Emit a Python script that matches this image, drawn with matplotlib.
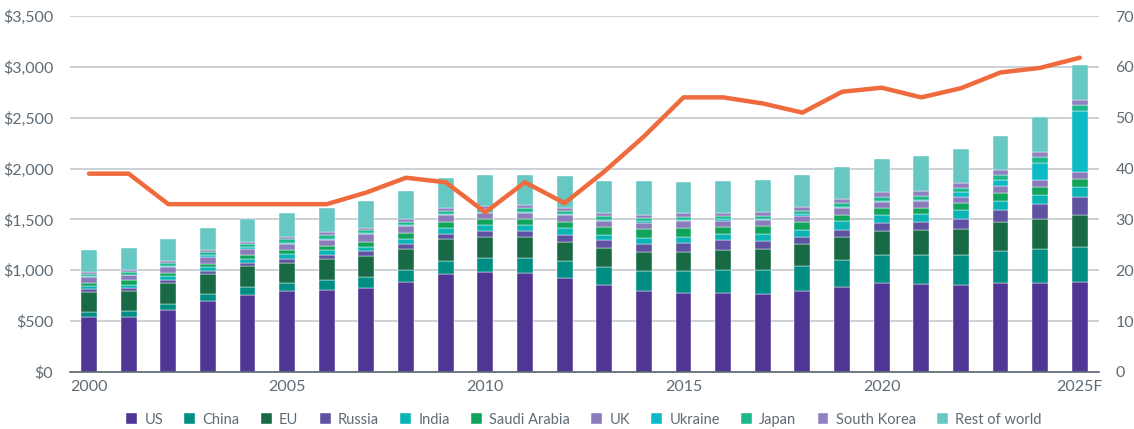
import matplotlib.pyplot as plt
import numpy as np

# Jahre und Tick-Beschriftungen
years = list(range(2000, 2026))
tick_pos = [0, 5, 10, 15, 20, 25]
tick_labels = ["2000", "2005", "2010", "2015", "2020", "2025F"]

# Ausgaben je Land (Mrd. $), von unten nach oben gestapelt
us = [539, 542, 611, 696, 758, 797, 807, 830, 886, 961, 987, 974, 925, 853, 797,
      778, 778, 768, 794, 837, 874, 864, 858, 877, 877, 881]
china = [49, 53, 62, 69, 79, 82, 95, 105, 114, 130, 137, 150, 163, 180, 196,
         212, 225, 239, 252, 261, 275, 285, 291, 311, 328, 344]
eu = [200, 206, 206, 199, 202, 193, 206, 205, 206, 213, 203, 203, 190, 186, 187,
      190, 196, 202, 209, 226, 236, 249, 259, 285, 301, 317]
russia = [26, 26, 29, 33, 33, 42, 42, 46, 55, 55, 59, 59, 72, 75, 78,
          85, 95, 75, 72, 68, 82, 79, 101, 121, 144, 183]
india = [29, 29, 33, 36, 42, 43, 46, 43, 49, 56, 58, 55, 62, 56, 62,
         62, 65, 72, 72, 88, 75, 81, 82, 92, 92, 95]
saudi = [33, 46, 30, 29, 36, 46, 43, 49, 53, 59, 56, 59, 62, 72, 89,
         91, 66, 75, 78, 63, 66, 59, 69, 69, 72, 79]
uk = [59, 50, 62, 69, 59, 58, 62, 75, 68, 68, 65, 62, 65, 65, 58,
      62, 59, 59, 59, 68, 65, 63, 62, 69, 69, 72]
ukraine = [4, 5, 9, 16, 20, 10, 10, 10, 12, 10, 10, 10, 12, 10, 13,
           13, 16, 13, 16, 16, 13, 9, 43, 62, 176, 596]
japan = [25, 30, 27, 33, 26, 36, 35, 29, 31, 30, 30, 39, 34, 32, 33,
         30, 33, 33, 33, 30, 39, 43, 45, 52, 56, 55]
south_korea = [20, 20, 26, 19, 26, 23, 27, 23, 26, 29, 23, 26, 29, 30, 33,
               36, 32, 36, 36, 39, 43, 43, 46, 46, 46, 50]
rest = [218, 215, 215, 213, 222, 235, 238, 265, 281, 294, 310, 301, 308, 323, 330,
        307, 308, 317, 320, 320, 327, 347, 341, 341, 350, 350]

# rechte Achse (Linie)
line_vals = [39, 39, 33, 33, 33, 33, 33, 35.3, 38.2, 37.3, 31.4, 37.3, 33.2, 39.4, 46.3,
             54, 54, 52.8, 51, 55.1, 55.9, 54, 55.8, 58.9, 59.8, 61.8]

series = [
    ("US", us, "#4f3594"),
    ("China", china, "#008d84"),
    ("EU", eu, "#176a43"),
    ("Russia", russia, "#5e52a2"),
    ("India", india, "#0ab4b5"),
    ("Saudi Arabia", saudi, "#12a35b"),
    ("UK", uk, "#8a7bba"),
    ("Ukraine", ukraine, "#0bbac4"),
    ("Japan", japan, "#1db78b"),
    ("South Korea", south_korea, "#8f80c0"),
    ("Rest of world", rest, "#67c7c2"),
]

plt.rcParams["font.family"] = ["Lato", "DejaVu Sans"]
text_col = "#5f6b75"

fig = plt.figure(figsize=(11.34, 4.29), dpi=100)
ax = fig.add_axes([0.0617, 0.1329, 0.9073, 0.8298])
x = np.arange(len(years))

bottom = np.zeros(len(years))
for name, vals, col in series:
    ax.bar(x, vals, width=0.4, bottom=bottom, color=col, label=name,
           edgecolor="white", linewidth=0.3, zorder=3)
    bottom += np.array(vals)

ax.set_xlim(-0.48, 25.48)
ax.set_ylim(0, 3500)
ax.set_yticks(range(0, 3501, 500))
ax.set_yticklabels(["${:,}".format(v) for v in range(0, 3501, 500)])
ax.set_xticks(tick_pos)
ax.set_xticklabels(tick_labels)
ax.grid(axis="y", color="#c3c9ce", linewidth=1.2, zorder=0)
for s in ["top", "right", "left"]:
    ax.spines[s].set_visible(False)
ax.spines["bottom"].set_color("#5a6570")
ax.spines["bottom"].set_linewidth(1.2)
ax.spines["bottom"].set_zorder(4)
ax.tick_params(axis="both", length=0, labelsize=11.5, colors=text_col)
ax.tick_params(axis="y", pad=12)
ax.tick_params(axis="x", pad=6)

ax2 = ax.twinx()
ax2.plot(x, line_vals, color="#ef6a3c", linewidth=3.2, solid_capstyle="round",
         solid_joinstyle="round", zorder=5)
ax2.set_ylim(0, 70)
ax2.set_yticks(range(0, 71, 10))
for s in ["top", "right", "left", "bottom"]:
    ax2.spines[s].set_visible(False)
ax2.tick_params(axis="y", length=0, labelsize=11.5, colors=text_col, pad=12)

handles, labels = ax.get_legend_handles_labels()
leg = fig.legend(handles, labels, loc="center", bbox_to_anchor=(0.515, 0.022),
                 ncol=11, frameon=False, fontsize=10.5, handlelength=0.75,
                 handleheight=0.75, handletextpad=0.5, columnspacing=1.45)
for t in leg.get_texts():
    t.set_color(text_col)

fig.savefig("out.png", dpi=100)
